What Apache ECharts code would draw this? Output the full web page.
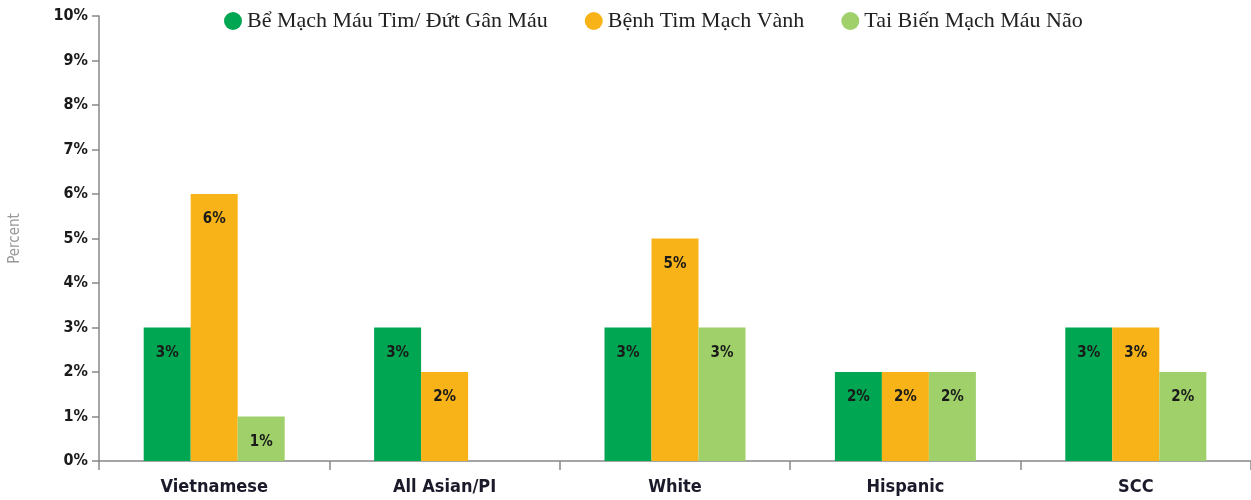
<!DOCTYPE html>
<html>
<head>
<meta charset="utf-8">
<script src="https://cdn.jsdelivr.net/npm/echarts@6/dist/echarts.min.js"></script>
<style>
html, body { margin: 0; padding: 0; background: #fff; }
#main { width: 1251px; height: 500px; }
</style>
</head>
<body>
<div id="main"></div>
<script>
var categories = ['Vietnamese', 'All Asian/PI', 'White', 'Hispanic', 'SCC'];
var seriesNames = ['Bể Mạch Máu Tim/ Đứt Gân Máu', 'Bệnh Tim Mạch Vành', 'Tai Biến Mạch Máu Não'];
var strokeData = [3, 3, 3, 2, 3];
var heartData = [6, 2, 5, 2, 3];
var brainData = [1, null, 3, 2, 2];
var colors = ['#00a651', '#f8b318', '#9fd06a'];

var numFont = '"Liberation Sans Narrow", "DejaVu Sans Condensed", sans-serif';

var makeSeries = function (name, data, color) {
    return {
        name: name,
        type: 'bar',
        data: data,
        barWidth: 47,
        barGap: '0%',
        itemStyle: { color: color },
        label: {
            show: true,
            position: 'insideTop',
            distance: 18,
            formatter: '{c}%',
            color: '#1a1a1a',
            fontFamily: numFont,
            fontWeight: 'bold',
            fontSize: 15
        }
    };
};

var myChart = echarts.init(document.getElementById('main'));
var option = {
    animation: false,
    legend: {
        top: 5,
        left: 219,
        icon: 'circle',
        itemWidth: 18,
        itemHeight: 18,
        itemGap: 37,
        textStyle: {
            fontFamily: '"Liberation Serif", serif',
            fontSize: 22,
            color: '#222'
        },
        data: seriesNames
    },
    grid: {
        left: 96,
        right: -3,
        top: 16,
        bottom: 39
    },
    xAxis: {
        type: 'category',
        data: categories,
        axisLine: { lineStyle: { color: '#888', width: 1.5 } },
        axisTick: { show: true, length: 9, lineStyle: { color: '#888', width: 1.5 } },
        axisLabel: {
            margin: 17,
            color: '#1a1a2a',
            fontFamily: numFont,
            fontWeight: 'bold',
            fontSize: 18
        }
    },
    yAxis: {
        type: 'value',
        min: 0,
        max: 10,
        interval: 1,
        name: 'Percent',
        nameLocation: 'middle',
        nameGap: 76,
        nameTextStyle: {
            color: '#999',
            fontFamily: numFont,
            fontSize: 15
        },
        splitLine: { show: false },
        axisLine: { show: true, lineStyle: { color: '#888', width: 1.5 } },
        axisTick: { show: true, length: 7, lineStyle: { color: '#888', width: 1.5 } },
        axisLabel: {
            formatter: '{value}%',
            margin: 11,
            color: '#1a1a1a',
            fontFamily: numFont,
            fontWeight: 'bold',
            fontSize: 16
        }
    },
    series: [
        makeSeries(seriesNames[0], strokeData, colors[0]),
        makeSeries(seriesNames[1], heartData, colors[1]),
        makeSeries(seriesNames[2], brainData, colors[2])
    ]
};
myChart.setOption(option);
</script>
</body>
</html>
